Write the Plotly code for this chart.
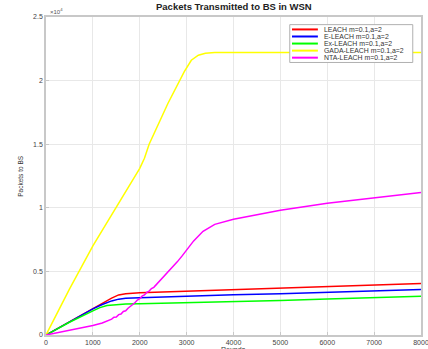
import plotly.graph_objects as go

# Packets delivered to the base station (in units of 1e4) per protocol
names = ["LEACH m=0.1,a=2", "E-LEACH m=0.1,a=2", "Ex-LEACH m=0.1,a=2",
         "GADA-LEACH m=0.1,a=2", "NTA-LEACH m=0.1,a=2"]
colors = ["#ff0000", "#0000ff", "#00ff00", "#ffff00", "#ff00ff"]

leach_x = [0, 500, 1000, 1200, 1400, 1550, 1700, 2000, 3000, 4000, 5000, 6000, 7000, 8000]
leach_y = [0, 0.105, 0.21, 0.25, 0.29, 0.315, 0.325, 0.332, 0.345, 0.357, 0.368, 0.38, 0.393, 0.405]

eleach_x = [0, 500, 1000, 1200, 1400, 1550, 1700, 2000, 3000, 4000, 5000, 6000, 7000, 8000]
eleach_y = [0, 0.105, 0.205, 0.24, 0.268, 0.282, 0.288, 0.292, 0.305, 0.316, 0.325, 0.335, 0.346, 0.358]

exleach_x = [0, 500, 1000, 1150, 1300, 1500, 1700, 2000, 3000, 4000, 5000, 6000, 7000, 8000]
exleach_y = [0, 0.1, 0.19, 0.215, 0.232, 0.24, 0.244, 0.246, 0.253, 0.262, 0.272, 0.283, 0.294, 0.305]

gada_x = [0, 500, 1000, 1500, 1900, 2000, 2100, 2200, 2600, 2950, 3100, 3250, 3400, 3600, 4000, 8000]
gada_y = [0, 0.36, 0.70, 1.01, 1.25, 1.31, 1.39, 1.50, 1.82, 2.07, 2.16, 2.20, 2.215, 2.22, 2.22, 2.22]

# NTA-LEACH rises in small steps during the transition phase
nta_x = [0, 500, 1000, 1200, 1400, 1450, 1500, 1550, 1600, 1650, 1700, 1750, 1800, 1850,
         1900, 1950, 2000, 2050, 2100, 2150, 2200, 2250, 2300, 2350, 2400, 2450, 2500,
         2550, 2600, 2650, 2700, 2800, 2900, 3000, 3150, 3350, 3600, 4000, 4500, 5000,
         6000, 7000, 8000]
nta_y = [0, 0.035, 0.075, 0.095, 0.125, 0.14, 0.142, 0.16, 0.165, 0.185, 0.19, 0.21, 0.222,
         0.24, 0.255, 0.275, 0.285, 0.305, 0.315, 0.335, 0.345, 0.365, 0.375, 0.395, 0.41,
         0.43, 0.45, 0.468, 0.49, 0.51, 0.535, 0.575, 0.62, 0.665, 0.74, 0.815, 0.87, 0.91,
         0.945, 0.98, 1.035, 1.08, 1.12]

series = [(leach_x, leach_y), (eleach_x, eleach_y), (exleach_x, exleach_y),
          (gada_x, gada_y), (nta_x, nta_y)]

x_ticks = [0, 1000, 2000, 3000, 4000, 5000, 6000, 7000, 8000]
y_ticks = [0, 0.5, 1, 1.5, 2, 2.5]
y_tick_text = ["0", "0.5", "1", "1.5", "2", "2.5"]

FONT = "Liberation Sans, Arial, sans-serif"

fig = go.Figure()
for (xs, ys), name, color in zip(series, names, colors):
    fig.add_trace(go.Scatter(x=xs, y=ys, mode="lines", name=name,
                             line=dict(color=color, width=1.5), showlegend=False))

axis_common = dict(showgrid=True, gridcolor="#e8e8e8", gridwidth=1,
                   showline=True, linecolor="#c8c8c8", linewidth=1.5, mirror=True,
                   ticks="inside", ticklen=3, tickcolor="#c8c8c8",
                   tickfont=dict(family=FONT, size=7, color="#444444"), zeroline=False,
                   ticklabeloverflow="allow")

fig.update_xaxes(range=[0, 8000], tickvals=x_ticks, **axis_common)
fig.update_yaxes(range=[0, 2.5], tickvals=y_ticks, ticktext=y_tick_text, **axis_common)

# Legend box drawn in paper coordinates
lx0, lx1, ly1 = 0.650, 0.978, 0.976
row_h = 0.0222
ly0 = ly1 - row_h * len(names) - 0.008
fig.add_shape(type="rect", xref="paper", yref="paper", x0=lx0, x1=lx1, y0=ly0, y1=ly1,
              line=dict(color="#b0b0b0", width=1), fillcolor="white", layer="above")
annotations = []
for i, (name, color) in enumerate(zip(names, colors)):
    yc = ly1 - 0.004 - row_h * (i + 0.5)
    fig.add_shape(type="line", xref="paper", yref="paper", x0=lx0 + 0.006, x1=lx0 + 0.075,
                  y0=yc, y1=yc, line=dict(color=color, width=2), layer="above")
    annotations.append(dict(xref="paper", yref="paper", x=lx0 + 0.085, y=yc, text=name,
                            showarrow=False, xanchor="left", yanchor="middle",
                            font=dict(family=FONT, size=6.9, color="#333333")))

annotations += [
    dict(xref="paper", yref="paper", x=0.5, y=1, yshift=3, text="<b>Packets Transmitted to BS in WSN</b>",
         showarrow=False, xanchor="center", yanchor="bottom",
         font=dict(family=FONT, size=9.5, color="#222222")),
    dict(xref="paper", yref="paper", x=0.005, y=1, yshift=0, text="×10<sup>4</sup>",
         showarrow=False, xanchor="left", yanchor="bottom",
         font=dict(family=FONT, size=6, color="#555555")),
    dict(xref="paper", yref="paper", x=-0.07, y=0.5, text="Packets to BS", textangle=-90,
         showarrow=False, xanchor="center", yanchor="middle",
         font=dict(family=FONT, size=6.5, color="#333333")),
    dict(xref="paper", yref="paper", x=0.5, y=0, yshift=-9, text="Rounds",
         showarrow=False, xanchor="center", yanchor="top",
         font=dict(family=FONT, size=7, color="#333333")),
]

fig.update_layout(width=428, height=349,
                  margin=dict(l=45.5, r=6.5, t=17, b=13.5, autoexpand=False),
                  paper_bgcolor="white", plot_bgcolor="white",
                  annotations=annotations, showlegend=False)

fig.write_html("out.html")
